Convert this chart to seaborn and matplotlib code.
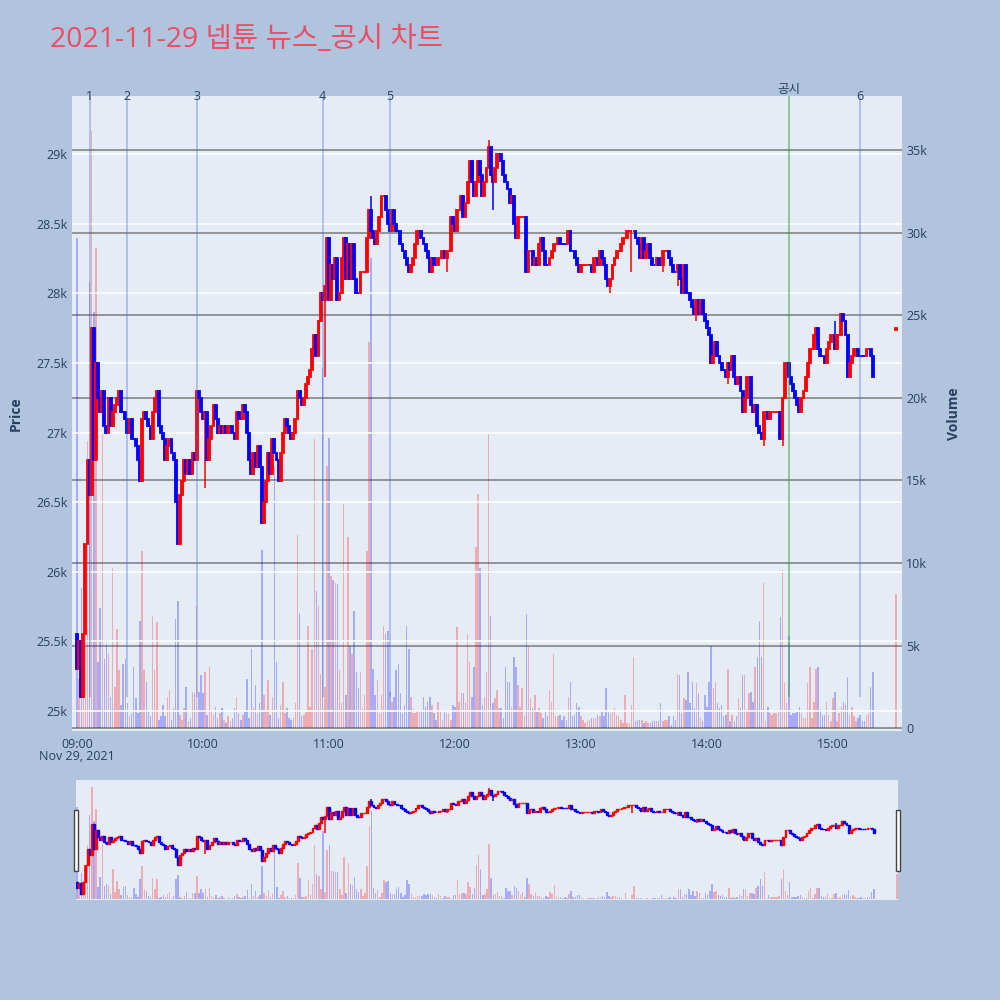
import matplotlib
matplotlib.use("Agg")
import matplotlib.pyplot as plt
from matplotlib.patches import Rectangle
from matplotlib.ticker import FuncFormatter
import numpy as np
import seaborn as sns

# minute closes 09:00 - 15:19 (open of each minute = previous close)
first_open = 25550
closes_0900 = [25300, 25500, 25100, 25550, 26200, 26800, 26550, 27750, 26800, 27500,
               27250, 27150, 27300, 27050, 27000, 27250, 27050, 27150, 27200, 27250,
               27300, 27150, 27150, 27100, 27000, 27100, 26950, 26950, 26900, 26800,
               26650, 27100, 27150, 27100, 27050, 26950, 27150, 27250, 27300, 27050,
               27000, 26950, 26800, 26900, 26950, 26850, 26800, 26500, 26200, 26550,
               26650, 26800, 26700, 26800, 26700, 26850, 26800, 27300, 27250, 27150,
               27100, 27150, 26800]
closes_1003 = [26950, 27050, 27200, 27100, 27000, 27050, 27000, 27050, 27000, 27050,
               27050, 27000, 26950, 27150, 27100, 27100, 27200, 27150, 27000, 26800,
               26700, 26850, 26750, 26900, 26750, 26350, 26500, 26650, 26850, 26700,
               26950, 26850, 26800, 26650, 26850, 27000, 27100, 27050, 27000, 26950,
               27000, 27100, 27300, 27250, 27200, 27250, 27350, 27400, 27450, 27600,
               27700, 27550, 27800, 28000, 27950, 28050, 28400, 27950, 28200, 28100,
               28250]
closes_1104 = [27950, 28000, 28250, 28400, 28100, 28350, 28100, 28350, 28100, 28000,
               28000, 28150, 28150, 28150, 28400, 28600, 28450, 28400, 28350, 28450,
               28550, 28700, 28700, 28600, 28500, 28450, 28600, 28500, 28450, 28450,
               28350, 28300, 28250, 28200, 28150, 28200, 28250, 28350, 28450, 28450,
               28400, 28350, 28300, 28250, 28150, 28250, 28200, 28200, 28250, 28250,
               28300, 28250, 28300, 28300, 28550, 28500, 28450, 28600, 28600, 28700,
               28550, 28650, 28800, 28950, 28800, 28700]
closes_1210 = [28800, 28950, 28850, 28700, 28800, 28900, 29050, 28850, 28800, 28900,
               29000, 29000, 28950, 28850, 28800, 28750, 28650, 28700, 28500, 28400,
               28550, 28550, 28550, 28550, 28150, 28300, 28300, 28200, 28250, 28200,
               28350, 28400, 28300, 28200, 28200, 28250, 28300, 28350, 28350, 28400,
               28350, 28350, 28350, 28350, 28450, 28300, 28300, 28250, 28200, 28150,
               28200, 28200, 28200, 28200, 28200, 28150, 28250, 28250, 28200, 28300,
               28250, 28200, 28100, 28050]
closes_1314 = [28100, 28200, 28250, 28300, 28300, 28350, 28400, 28400, 28450, 28450,
               28450, 28450, 28400, 28350, 28250, 28400, 28250, 28300, 28350, 28250,
               28200, 28200, 28250, 28200, 28200, 28300, 28300, 28300, 28250, 28200,
               28150, 28150, 28200, 28100, 28000, 28200, 28000, 28000, 27950, 27900,
               27850, 27950, 27850, 27950, 27850, 27800, 27750, 27700, 27500, 27550,
               27650, 27550, 27500, 27450, 27450, 27400, 27500, 27450, 27550, 27400,
               27350, 27400, 27300, 27150]
closes_1418 = [27250, 27400, 27400, 27200, 27150, 27200, 27050, 27000, 26950, 27150,
               27150, 27100, 27150, 27150, 27150, 27150, 27150, 26950, 27250, 27500,
               27500, 27400, 27350, 27300, 27250, 27200, 27150, 27250, 27300, 27400,
               27500, 27600, 27600, 27700, 27750, 27600, 27550, 27550, 27500, 27600,
               27650, 27700, 27700, 27600, 27700, 27700, 27850, 27800, 27700, 27400,
               27500, 27550, 27600, 27600, 27550, 27550, 27550, 27550, 27600, 27600,
               27550, 27400]

# wick extremes that reach past the candle body (minute index -> price)
wick_lows = {61: 26600, 118: 27400, 176: 28150, 198: 28600, 254: 28000, 264: 28150,
             279: 28150, 286: 28050, 295: 27800, 310: 27350, 327: 26900, 336: 26900}
wick_highs = {140: 28700, 196: 29100, 361: 27800}

# volume per minute, thousands of shares
vol_0900 = [29.7, 3.0, 8.5, 5.0, 8.4, 17.4, 27.0, 36.2, 25.2, 29.1,
            4.0, 7.3, 17.9, 4.2, 5.1, 4.5, 1.9, 9.7, 2.5, 6.0,
            3.5, 1.4, 3.9, 4.2, 1.5, 0.7, 0.9, 3.7, 1.8, 0.9,
            6.5, 10.7, 3.5, 2.8, 1.0, 0.7, 6.8, 3.5, 6.4, 0.5,
            0.7, 1.4, 0.7, 1.9, 2.3, 0.5, 1.2, 6.6, 7.7, 0.8,
            0.5, 1.2, 2.5, 0.4, 0.6, 2.2, 2.1, 7.4, 2.2, 3.2,
            2.1, 3.4, 0.8]
vol_1003 = [3.7, 1.0, 0.8, 1.3, 0.6, 0.9, 1.2, 0.5, 0.3, 0.7,
            0.4, 0.6, 1.2, 1.9, 0.9, 0.5, 0.8, 1.0, 3.0, 0.6,
            4.8, 1.2, 2.6, 0.9, 1.5, 10.8, 2.0, 1.0, 2.9, 0.8,
            1.9, 15.8, 4.0, 0.6, 1.4, 2.8, 0.9, 1.2, 0.6, 0.5,
            0.6, 1.5, 11.7, 7.0, 0.7, 0.8, 1.0, 6.2, 1.3, 4.8,
            17.5, 8.3, 7.4, 3.3, 21.8, 2.5, 15.9, 17.6, 9.2, 9.0,
            8.8]
vol_1104 = [8.7, 3.5, 1.5, 13.6, 2.0, 11.6, 5.0, 4.5, 7.1, 3.4,
            2.4, 3.4, 1.2, 2.0, 10.7, 23.4, 28.5, 3.6, 2.0, 2.9,
            0.9, 2.0, 6.2, 5.7, 5.9, 2.2, 1.6, 1.9, 3.5, 3.9,
            2.1, 0.9, 1.4, 6.2, 4.8, 1.9, 0.9, 0.9, 1.1, 1.1,
            1.1, 1.9, 1.3, 1.6, 1.9, 1.4, 0.9, 0.5, 1.6, 1.0,
            0.5, 1.1, 0.9, 0.9, 0.5, 1.4, 1.3, 6.1, 1.6, 2.1,
            2.1, 1.6, 5.7, 4.0, 1.9, 3.7]
vol_1210 = [11.0, 14.2, 9.7, 1.4, 1.9, 3.4, 17.8, 6.8, 1.5, 1.8,
            2.3, 1.2, 1.2, 0.6, 3.7, 2.8, 2.8, 1.3, 4.3, 3.7,
            2.6, 1.3, 2.4, 0.7, 6.9, 5.0, 1.8, 1.2, 2.0, 1.0,
            1.2, 0.9, 0.6, 1.0, 0.7, 2.3, 1.6, 4.5, 0.7, 0.7,
            0.8, 0.5, 0.7, 0.5, 1.9, 2.8, 0.7, 0.8, 1.5, 1.3,
            0.7, 0.5, 0.3, 0.4, 0.5, 0.6, 0.6, 0.6, 0.8, 0.7,
            1.1, 0.7, 2.4, 1.0]
vol_1314 = [0.9, 1.1, 1.2, 0.8, 0.7, 0.5, 0.3, 2.0, 0.3, 0.3,
            1.4, 4.3, 0.4, 0.5, 0.5, 0.5, 0.3, 0.4, 0.3, 0.3,
            0.4, 0.4, 0.4, 0.4, 1.5, 0.4, 0.5, 0.5, 0.7, 0.2,
            0.7, 0.5, 3.3, 3.2, 0.9, 1.8, 1.7, 3.4, 1.5, 2.8,
            1.2, 2.7, 2.1, 0.6, 0.4, 2.0, 1.3, 2.8, 5.0, 2.4,
            2.8, 1.5, 1.2, 1.4, 0.7, 0.8, 3.6, 0.4, 0.8, 0.4,
            0.7, 1.8, 1.2, 3.2]
vol_1418 = [3.2, 1.1, 2.1, 2.2, 1.6, 3.7, 4.3, 6.5, 4.3, 8.8,
            0.4, 1.3, 0.9, 0.8, 0.9, 0.9, 1.0, 6.7, 9.6, 2.7,
            1.5, 5.6, 0.8, 0.9, 0.9, 1.0, 1.3, 0.9, 0.6, 0.6,
            2.7, 3.7, 0.6, 1.6, 3.6, 3.7, 1.1, 0.8, 0.8, 1.6,
            0.8, 0.4, 1.8, 2.2, 0.4, 0.9, 1.3, 1.6, 1.4, 3.1,
            0.8, 1.3, 0.7, 0.4, 0.6, 0.8, 0.4, 0.4, 0.8, 0.9,
            2.5, 3.4]

# 15:30 closing auction
auction_minute = 390
auction_open, auction_close, auction_vol = 27735, 27750, 8.1

# news / disclosure markers
event_labels = ["1", "2", "3", "4", "5", "공시", "6"]
event_minutes = [6, 24, 57, 117, 149, 339, 373]
time_labels = ["09:00", "10:00", "11:00", "12:00", "13:00", "14:00", "15:00"]

TEXT = "#2a3f5f"
UP, DOWN = "#ff0000", "#0000ff"
PLOT_BG = "#E5ECF6"
PAGE_BG = "#B0C4DE"

sns.set_theme(style="darkgrid", rc={"axes.facecolor": PLOT_BG, "figure.facecolor": PAGE_BG,
                                    "grid.color": "white", "axes.edgecolor": PLOT_BG})
plt.rcParams["font.family"] = ["Open Sans", "Noto Sans CJK KR", "DejaVu Sans"]

closes = np.array(closes_0900 + closes_1003 + closes_1104 + closes_1210 + closes_1314 + closes_1418, float)
vols = np.array(vol_0900 + vol_1003 + vol_1104 + vol_1210 + vol_1314 + vol_1418, float)
n = min(len(closes), len(vols))
closes, vols = closes[:n], vols[:n] * 1000
opens = np.r_[first_open, closes[:-1]]

colors = []
last = DOWN
for o, c in zip(opens, closes):
    if c > o:
        last = UP
    elif c < o:
        last = DOWN
    colors.append(last)

highs = np.maximum(opens, closes)
lows = np.minimum(opens, closes)
for k, v in wick_lows.items():
    lows[k] = min(lows[k], v)
for k, v in wick_highs.items():
    highs[k] = max(highs[k], v)

# add the closing auction print
minutes = np.r_[np.arange(n), auction_minute]
opens = np.r_[opens, auction_open]
closes = np.r_[closes, auction_close]
highs = np.r_[highs, auction_close]
lows = np.r_[lows, auction_open]
vols = np.r_[vols, auction_vol * 1000]
colors.append(UP)

PRICE_LIM = (24857, 29416)
VOL_LIM = (-180, 38300)


def draw_candles(ax, lw_body=1.3, width=0.9):
    bottoms = np.minimum(opens, closes)
    heights = np.abs(closes - opens)
    ax.vlines(minutes, lows, highs, colors=colors, lw=1.1, zorder=3)
    ax.bar(minutes, heights, bottom=bottoms, width=width, color=colors,
           edgecolor=colors, linewidth=lw_body, zorder=4)


def draw_volume(ax):
    ax.bar(minutes, vols, width=0.7, color=colors, alpha=0.27, linewidth=0, zorder=2)


fig = plt.figure(figsize=(10, 10), dpi=100)

# main chart
ax_p = fig.add_axes([0.072, 0.269, 0.83, 0.635])
ax_v = ax_p.twinx()
ax_v.set_zorder(0)
ax_p.set_zorder(1)
ax_p.patch.set_visible(False)
ax_v.patch.set_visible(True)
ax_v.patch.set_facecolor(PLOT_BG)

draw_volume(ax_v)
draw_candles(ax_p)

ax_p.set_xlim(-2.4, 392.9)
ax_p.set_ylim(*PRICE_LIM)
ax_v.set_ylim(*VOL_LIM)

ax_p.set_yticks(np.arange(25000, 29001, 500))
ax_p.yaxis.set_major_formatter(FuncFormatter(lambda v, _: f"{v / 1000:g}k"))
ax_v.set_yticks(np.arange(0, 35001, 5000))
ax_v.yaxis.set_major_formatter(FuncFormatter(lambda v, _: "0" if v == 0 else f"{v / 1000:g}k"))
ax_p.set_xticks(np.arange(0, 361, 60))
ax_p.set_xticklabels(time_labels)

ax_p.grid(axis="y", color="white", lw=1.2)
ax_p.grid(axis="x", visible=False)
ax_v.grid(axis="y", color="#8c8c8c", lw=1.3)
ax_v.grid(axis="x", visible=False)
for a in (ax_p, ax_v):
    for s in a.spines.values():
        s.set_visible(False)
    a.tick_params(length=0, labelsize=9, labelcolor=TEXT, pad=3)
ax_p.tick_params(axis="x", pad=5)

ax_p.set_ylabel("Price", color=TEXT, fontsize=10, fontweight="bold", labelpad=10)
ax_v.set_ylabel("Volume", color=TEXT, fontsize=10, fontweight="bold", labelpad=14)

# event lines with labels above the plot
for lab, m in zip(event_labels, event_minutes):
    is_notice = lab == "공시"
    ax_p.vlines(m, 25100, PRICE_LIM[1], colors="#2ca02c" if is_notice else "#4169E1",
                alpha=0.55 if is_notice else 0.4, lw=1.2, zorder=5)
    ax_p.text(m, 1.011 if is_notice else 0.999, lab, transform=ax_p.get_xaxis_transform(),
              ha="center", va="center", fontsize=9, color=TEXT, zorder=6)

fig.text(0.077, 0.243, "Nov 29, 2021", ha="center", va="center", fontsize=9, color=TEXT)
fig.text(0.05, 0.960, "2021-11-29 넵튠 뉴스_공시 차트", ha="left", va="center",
         fontsize=20.5, color="#EC4E66", family=["Open Sans", "Noto Sans CJK KR", "DejaVu Sans"])

# range slider
ax_s = fig.add_axes([0.076, 0.1, 0.822, 0.12])
ax_s2 = ax_s.twinx()
ax_s2.set_zorder(0)
ax_s.set_zorder(1)
ax_s.patch.set_visible(False)
ax_s2.patch.set_visible(True)
ax_s2.patch.set_facecolor(PLOT_BG)
draw_volume(ax_s2)
draw_candles(ax_s, lw_body=1.0)
ax_s.set_xlim(-0.5, 390.5)
ax_s.set_ylim(*PRICE_LIM)
ax_s2.set_ylim(*VOL_LIM)
for a in (ax_s, ax_s2):
    a.set_xticks([])
    a.set_yticks([])
    a.grid(False)
    for s in a.spines.values():
        s.set_visible(False)

for hx in (0.0735, 0.896):
    fig.patches.append(Rectangle((hx, 0.129), 0.0042, 0.061, transform=fig.transFigure,
                                 facecolor="white", edgecolor="#444444", lw=1, zorder=10))

fig.savefig("out.png", dpi=100, facecolor=PAGE_BG)
